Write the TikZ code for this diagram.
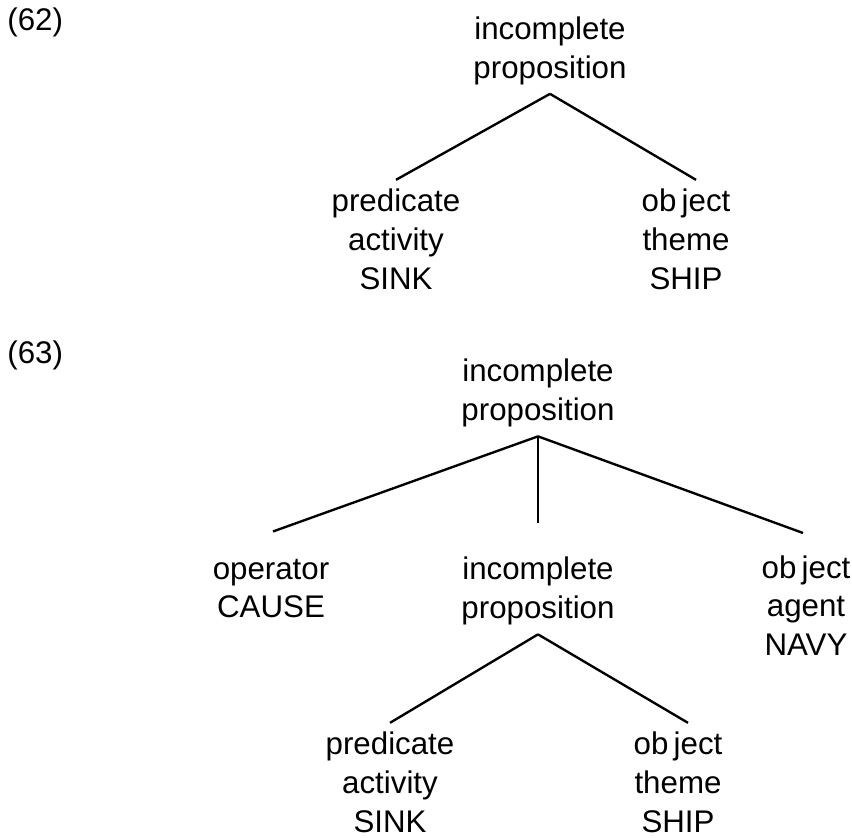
\documentclass[tikz,border=0pt]{standalone}
\usepackage{fontspec}
\setmainfont{Liberation Sans}
\usepackage{tikz}

\begin{document}
\begin{tikzpicture}[
  cat/.style={align=center,inner sep=0.18cm,font=\fontsize{17.8pt}{22.1pt}\selectfont},
  exnum/.style={anchor=base west,inner sep=0pt,font=\fontsize{17.8pt}{22.1pt}\selectfont},
  branch/.style={line width=1.35pt,linecolor}]
\definecolor{linecolor}{RGB}{0,0,0}
\useasboundingbox (0,0) rectangle (17.04,-16.74);
% (62)
\node [exnum] (ex62) at (0.14,-0.60) {(62)};
\node [cat] (ip1) at (11.00,-1.01) {incomplete\\proposition};
\node [cat] (pred1) at (7.92,-4.79) {predicate\\activity\\SINK};
\node [cat] (obj1) at (13.72,-4.79) {ob\kern3pt ject\\theme\\SHIP};
\draw [branch] (ip1.south) -- (pred1.north);
\draw [branch] (ip1.south) -- ([xshift=0.2cm]obj1.north);
% (63)
\node [exnum] (ex63) at (0.14,-7.26) {(63)};
\node [cat] (ip2) at (10.76,-7.86) {incomplete\\proposition};
\node [cat] (op) at (5.42,-11.77) {operator\\CAUSE};
\node [cat] (ip3) at (10.76,-11.82) {incomplete\\proposition};
\node [cat] (obj2) at (16.12,-12.11) {ob\kern3pt ject\\agent\\NAVY};
\draw [branch] (ip2.south) -- ([xshift=0.04cm,yshift=0.36cm]op.north);
\draw [branch,shorten >=0.5cm] (ip2.south) -- (ip3.north);
\draw [branch] (ip2.south) -- ([xshift=-0.06cm,yshift=0.26cm]obj2.north);
\node [cat] (pred2) at (7.80,-15.65) {predicate\\activity\\SINK};
\node [cat] (obj3) at (13.56,-15.65) {ob\kern3pt ject\\theme\\SHIP};
\draw [branch] (ip3.south) -- (pred2.north);
\draw [branch] (ip3.south) -- ([xshift=0.2cm]obj3.north);
\end{tikzpicture}
\end{document}
